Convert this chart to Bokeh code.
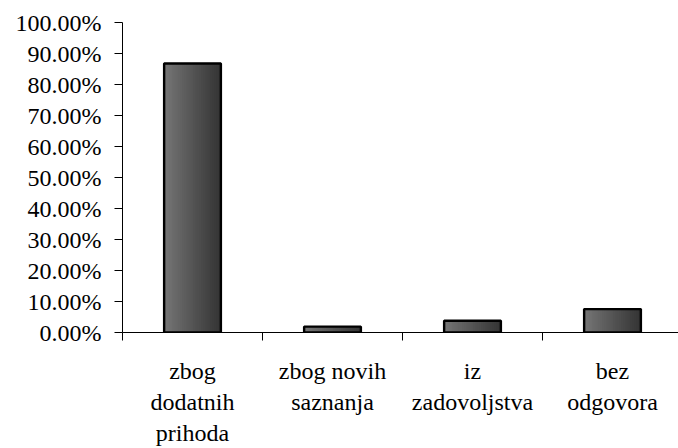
import numpy as np
from bokeh.plotting import figure
from bokeh.models import Range1d, FixedTicker, NumeralTickFormatter, ColumnDataSource
from bokeh.embed import file_html
from bokeh.resources import INLINE

# ---- data ----
categories = ["zbog\ndodatnih\nprihoda", "zbog novih\nsaznanja", "iz\nzadovoljstva", "bez\nodgovora"]
shares = [0.8679, 0.0189, 0.0377, 0.0755]
y_ticks = [0.0, 0.1, 0.2, 0.3, 0.4, 0.5, 0.6, 0.7, 0.8, 0.9, 1.0]

FONT = "'Liberation Serif'"
centers = [i + 0.5 for i in range(len(categories))]
bar_width = 0.405
n_strips = 30
light = np.array([0x78, 0x78, 0x78])
dark = np.array([0x36, 0x36, 0x36])

sx, stop, scol = [], [], []
for c, v in zip(centers, shares):
    for k in range(n_strips):
        f = (k + 0.5) / n_strips
        sx.append(c - bar_width / 2 + bar_width * f)
        stop.append(v)
        rgb = (light + (dark - light) * f).astype(int)
        scol.append("#%02x%02x%02x" % tuple(rgb))
strips = ColumnDataSource(dict(x=sx, top=stop, color=scol))
bars = ColumnDataSource(dict(x=centers, top=shares))

p = figure(width=678, height=448, output_backend="svg", toolbar_location=None,
           x_range=Range1d(0, 556 / 140), y_range=Range1d(0, 1),
           min_border_left=122, min_border_right=0, min_border_top=22, min_border_bottom=114)
p.outline_line_color = None
p.xgrid.visible = False
p.ygrid.visible = False
p.background_fill_color = "white"

p.vbar(x="x", top="top", width=bar_width / n_strips * 1.8, bottom=0, source=strips,
       fill_color="color", line_color="color", line_width=0.5)
p.vbar(x="x", top="top", width=bar_width, bottom=0, source=bars,
       fill_color=None, line_color="black", line_width=2.4)

# y axis
ya = p.yaxis[0]
ya.ticker = FixedTicker(ticks=y_ticks)
ya.formatter = NumeralTickFormatter(format="0.00%")
ya.major_tick_out = 8
ya.major_tick_in = 0
ya.minor_tick_out = 0
ya.minor_tick_in = 0
ya.major_label_standoff = 13
ya.major_label_text_font = FONT
ya.major_label_text_font_size = "24px"
ya.major_label_text_color = "black"
ya.axis_line_color = "black"

# x axis: labels at centres, ticks at category boundaries
xa = p.xaxis[0]
xa.ticker = FixedTicker(ticks=centers, minor_ticks=list(range(len(categories) + 1)))
xa.major_label_overrides = {c: lab for c, lab in zip(centers, categories)}
xa.major_tick_out = 0
xa.major_tick_in = 0
xa.minor_tick_out = 8
xa.minor_tick_in = 0
xa.major_label_standoff = 17
xa.major_label_text_font = FONT
xa.major_label_text_font_size = "24px"
xa.major_label_text_color = "black"
xa.major_label_text_line_height = 1.2
xa.axis_line_color = "black"

open("out.html", "w").write(file_html(p, INLINE))
